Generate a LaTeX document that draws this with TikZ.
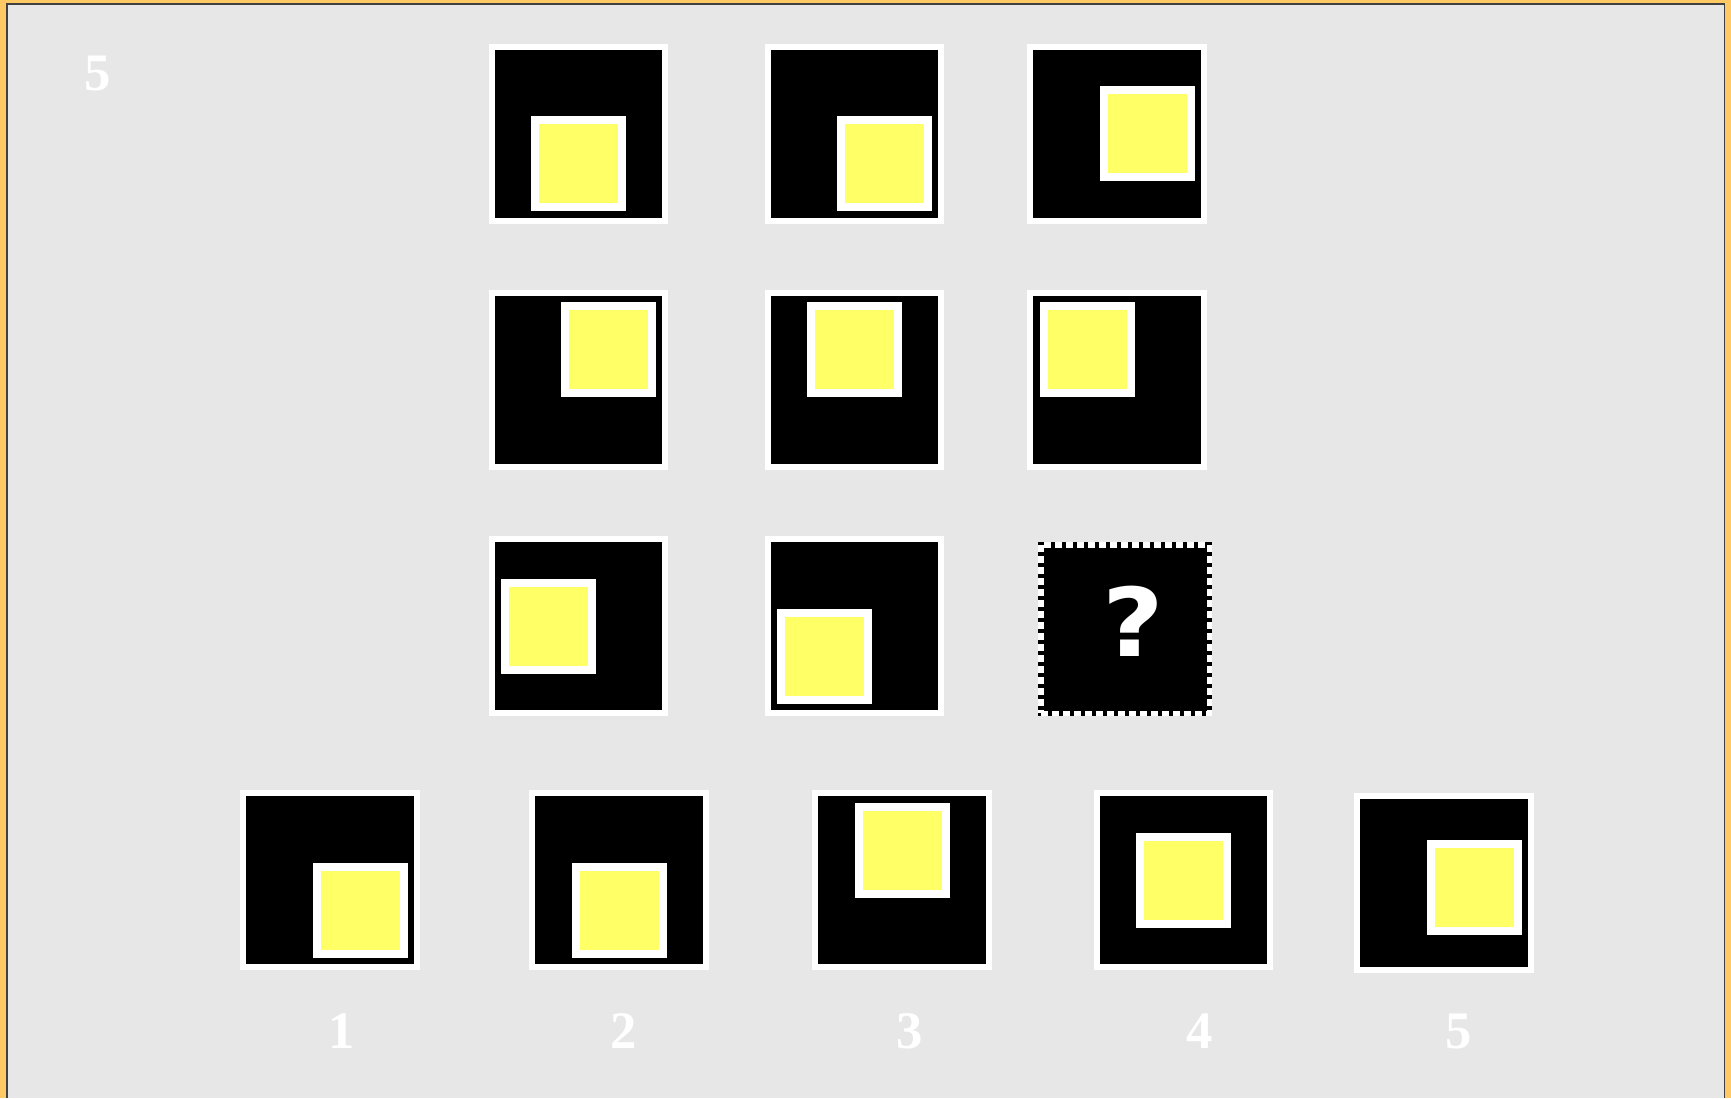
\documentclass[tikz,border=0pt]{standalone}
\usepackage{fontspec}
\setmainfont{Liberation Serif}
\newfontfamily\qfont{DejaVu Sans}
\usetikzlibrary{calc}
\definecolor{FrameOrange}{RGB}{255,201,102}
\definecolor{PaperGray}{RGB}{231,231,231}
\definecolor{LampYellow}{RGB}{255,255,102}
\tikzset{
  tile/.style={fill=black,draw=white,line width=0.6mm,
    minimum size=1.738cm,inner sep=0pt},
  lamp/.style={fill=LampYellow,draw=white,line width=0.8mm,
    minimum size=0.87cm,inner sep=0pt},
  blank/.style={fill=black,draw=white,line width=0.55mm,
    dash pattern=on 0.7mm off 0.4mm,preaction={draw=black,solid},
    minimum size=1.685cm,inner sep=0pt},
  qmark/.style={text=white,inner sep=0pt,xscale=1.12,
    font=\qfont\bfseries\fontsize{27}{27}\selectfont},
  numlabel/.style={text=white,inner sep=0pt,
    font=\bfseries\fontsize{15}{15}\selectfont}
}

\begin{document}
\begin{tikzpicture}[x=0.1mm,y=-0.1mm]
  \useasboundingbox (0,0) rectangle (1731,1098);
  % paper and frame
  \fill[FrameOrange] (0,0) rectangle (1731,1098);
  \fill[black!75] (6,3) rectangle (1725,1098);
  \fill[PaperGray] (7.5,4.5) rectangle (1723.5,1098);

  \node[numlabel] (page) at (98,73) {5};

  % matrix and answer tiles: name/x/y/lamp offset
  \foreach \name/\cx/\cy/\ox/\oy in {
      r1a/578.5/133.6/0/30, r1b/854.5/133.6/30/30, r1c/1117.3/133.6/30/0,
      r2a/578.5/379.8/30/-30, r2b/854.5/379.8/0/-30, r2c/1117.3/379.8/-30/-30,
      r3a/578.5/626/-30/0, r3b/854.5/626/-30/30,
      opt1/330.1/880/30/30, opt2/619.3/880/0/30, opt3/902/880/0/-30,
      opt4/1183.5/880/0/0, opt5/1444/883.3/30/4}
  {
    \node[tile] (\name) at (\cx,\cy) {};
    \node[lamp] (\name-lamp) at ($(\name)+(\ox,\oy)$) {};
  }

  % missing tile
  \node[blank] (miss) at (1125,629) {};
  \node[qmark] (ask) at ($(miss)+(8,-8)$) {?};

  % answer numbers
  \node[numlabel] (n1) at (342,1031) {1};
  \node[numlabel] (n2) at (624,1031) {2};
  \node[numlabel] (n3) at (910,1031) {3};
  \node[numlabel] (n4) at (1200,1031) {4};
  \node[numlabel] (n5) at (1459,1031) {5};
\end{tikzpicture}
\end{document}
